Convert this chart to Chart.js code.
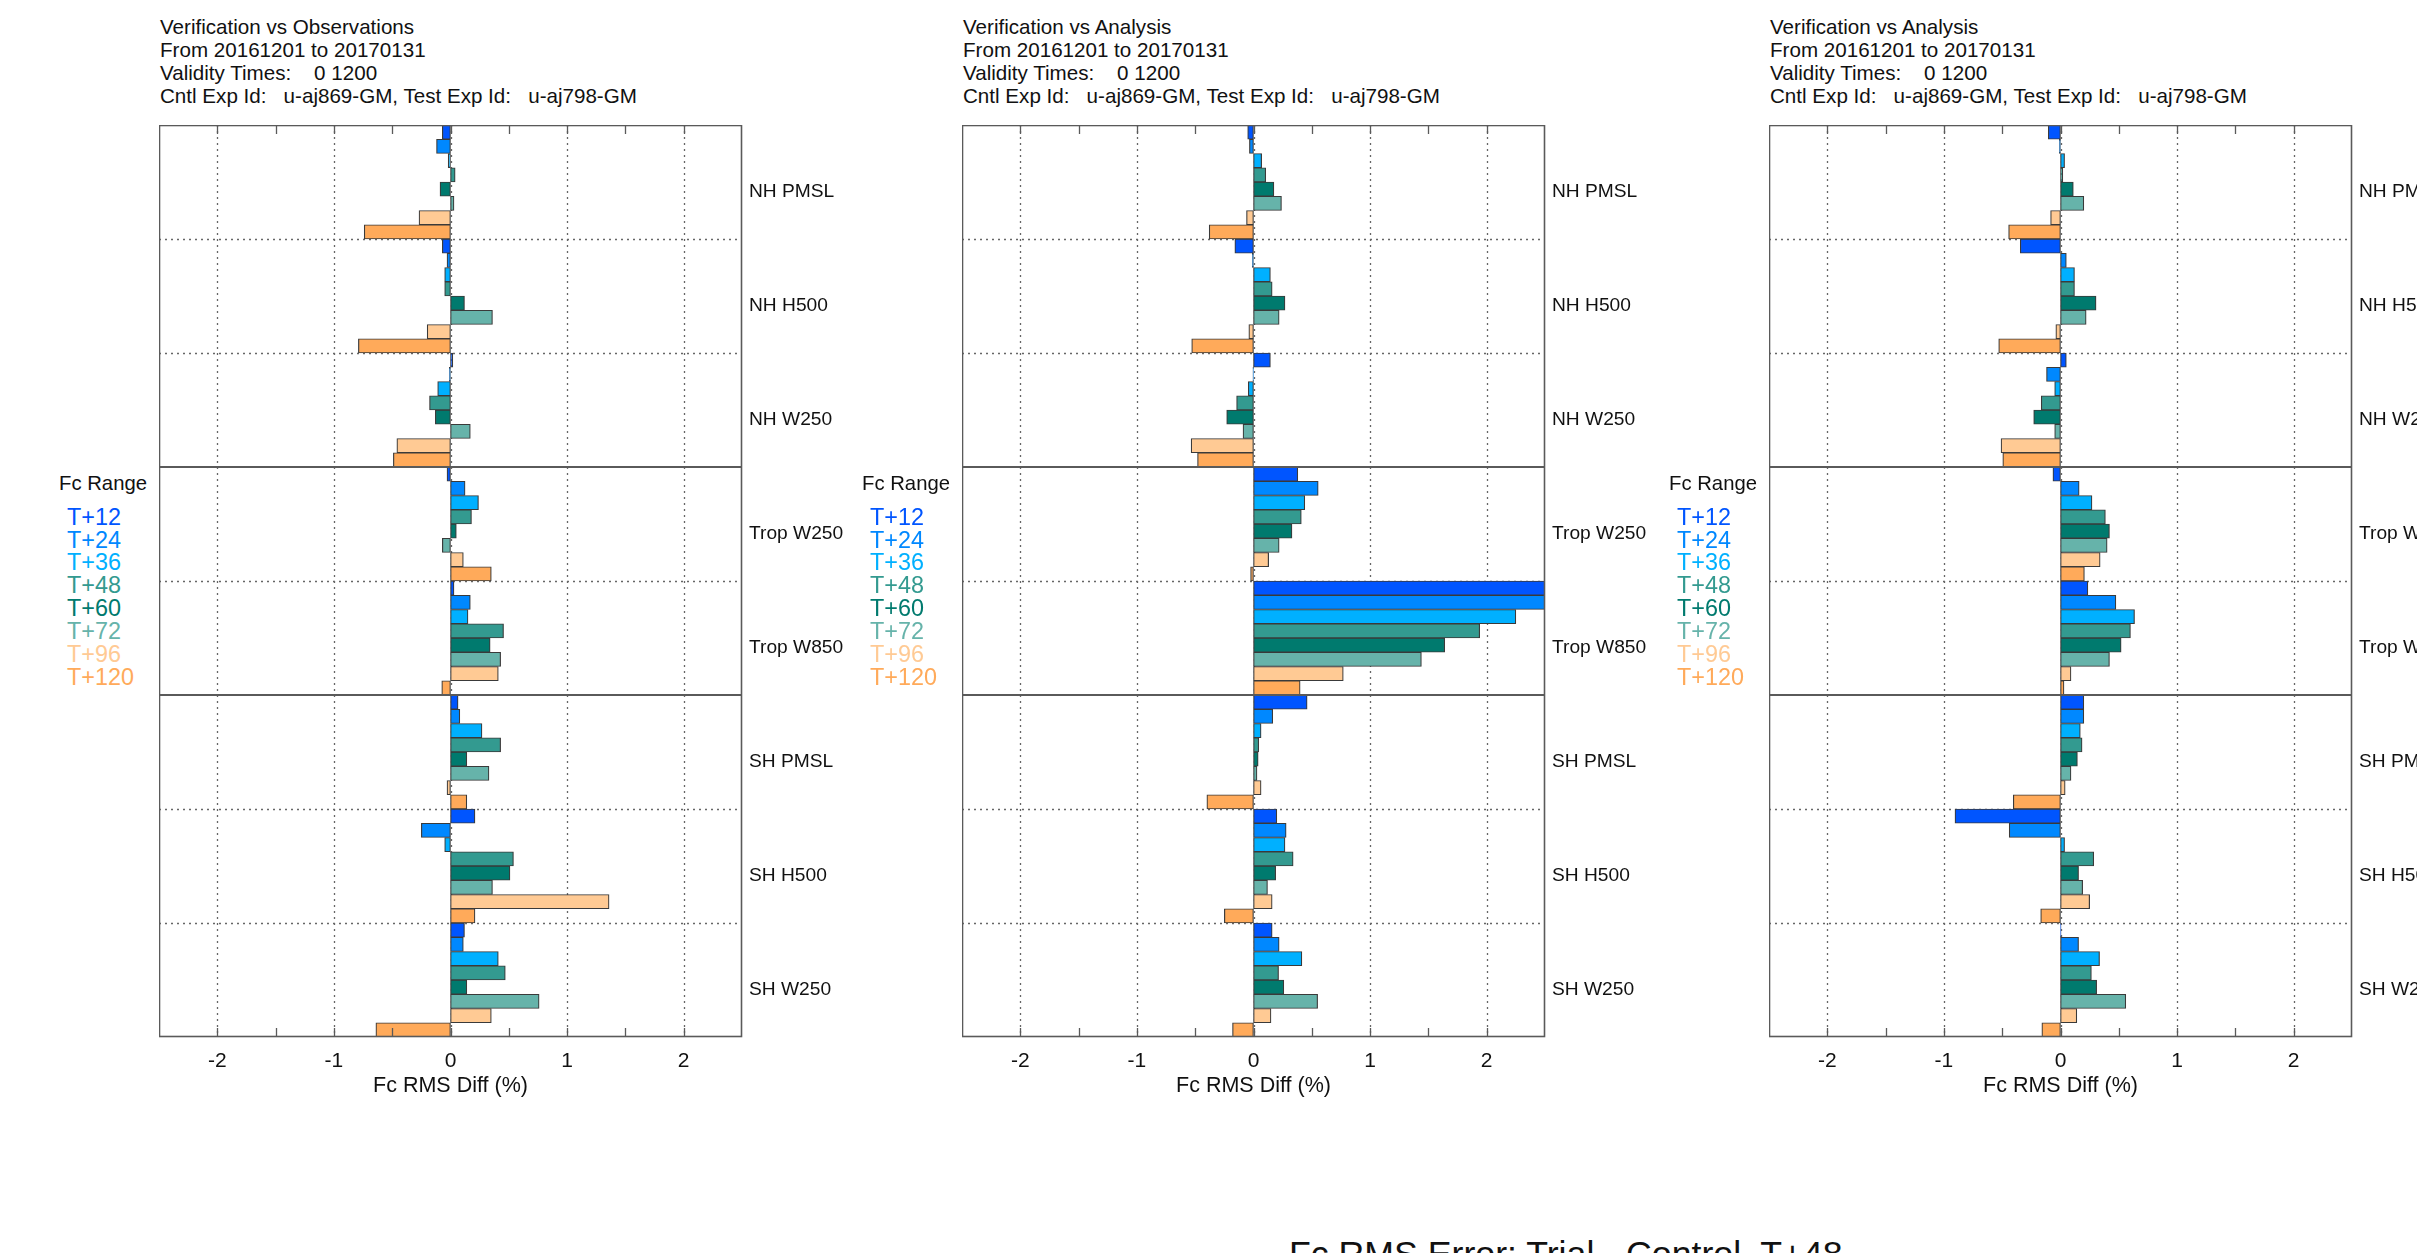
<!DOCTYPE html>
<html>
<head>
<meta charset="utf-8">
<script src="https://cdn.jsdelivr.net/npm/chart.js@4/dist/chart.umd.min.js"></script>
<style>
  html, body { margin: 0; padding: 0; width: 2417px; height: 1253px; overflow: hidden; background: #fff; }
  body { position: relative; font-family: "Liberation Sans", Arial, Helvetica, sans-serif; color: #111; }
  .t { position: absolute; white-space: pre; }
  canvas { position: absolute; }
</style>
</head>
<body>
<script>
// Verification regions (one bar group per region)
const categories = ['NH PMSL', 'NH H500', 'NH W250', 'Trop W250', 'Trop W850', 'SH PMSL', 'SH H500', 'SH W250'];
// Region index where a new hemisphere block starts (solid separator)
const groupBreaks = [3, 5];

// Forecast ranges and their colours
const seriesNames = ['T+12', 'T+24', 'T+36', 'T+48', 'T+60', 'T+72', 'T+96', 'T+120'];
const seriesColours = ['#0055ff', '#0088ff', '#00b0ff', '#339a90', '#007a6e', '#66b3aa', '#ffca94', '#ffaa5a'];

// Axis ticks
const xTicks = [-2, -1, 0, 1, 2];
const xMinorTicks = [-2, -1.5, -1, -0.5, 0, 0.5, 1, 1.5, 2];

// Fc RMS Diff (%) per forecast range (rows) and region (columns)
const obsValues = [
  [-0.07, -0.07,  0.02, -0.03,  0.03,  0.065, 0.21,  0.12],
  [-0.12, -0.03, -0.01,  0.125, 0.17,  0.08, -0.25,  0.11],
  [-0.02, -0.05, -0.11,  0.24,  0.15,  0.27, -0.05,  0.41],
  [ 0.04, -0.05, -0.18,  0.18,  0.455, 0.43,  0.54,  0.47],
  [-0.09,  0.12, -0.13,  0.05,  0.34,  0.14,  0.51,  0.14],
  [ 0.03,  0.36,  0.17, -0.07,  0.43,  0.33,  0.36,  0.76],
  [-0.27, -0.20, -0.46,  0.11,  0.41, -0.03,  1.36,  0.35],
  [-0.74, -0.79, -0.49,  0.35, -0.075, 0.14,  0.21, -0.64]
];
const anaValuesA = [
  [-0.05,  -0.16,  0.145,  0.38,  2.9,  0.46,  0.20,  0.16],
  [-0.035, -0.01, -0.005,  0.555, 2.7,  0.165, 0.28,  0.22],
  [ 0.07,   0.145, -0.045, 0.44,  2.25, 0.065, 0.27,  0.415],
  [ 0.105,  0.16, -0.145,  0.41,  1.94, 0.045, 0.34,  0.215],
  [ 0.175,  0.27, -0.23,   0.33,  1.64, 0.04,  0.19,  0.26],
  [ 0.24,   0.22, -0.09,   0.22,  1.44, 0.03,  0.12,  0.55],
  [-0.06,  -0.04, -0.535,  0.13,  0.77, 0.065, 0.16,  0.15],
  [-0.38,  -0.53, -0.48,  -0.025, 0.40, -0.40, -0.25, -0.18]
];
const anaValuesB = [
  [-0.105, -0.345,  0.05,  -0.065, 0.235, 0.20,  -0.905, 0.005],
  [-0.01,   0.05,  -0.12,   0.16,  0.475, 0.20,  -0.44,  0.155],
  [ 0.035,  0.12,  -0.05,   0.27,  0.635, 0.17,   0.035, 0.335],
  [ 0.02,   0.12,  -0.165,  0.385, 0.60,  0.185,  0.285, 0.265],
  [ 0.11,   0.305, -0.23,   0.42,  0.52,  0.145,  0.155, 0.31],
  [ 0.20,   0.22,  -0.05,   0.40,  0.42,  0.09,   0.19,  0.56],
  [-0.085, -0.04,  -0.51,   0.34,  0.09,  0.04,   0.25,  0.14],
  [-0.445, -0.53,  -0.495,  0.205, 0.03, -0.405, -0.17, -0.16]
];

const titleObs = ['Verification vs Observations', 'From 20161201 to 20170131', 'Validity Times:    0 1200', 'Cntl Exp Id:   u-aj869-GM, Test Exp Id:   u-aj798-GM'];
const titleAna = ['Verification vs Analysis', 'From 20161201 to 20170131', 'Validity Times:    0 1200', 'Cntl Exp Id:   u-aj869-GM, Test Exp Id:   u-aj798-GM'];
const footerText = 'Fc RMS Error: Trial - Control, T+48';

const FONT = '"Liberation Sans", Arial, Helvetica, sans-serif';
const PLOT_TOP = 125, PLOT_W = 583, PLOT_H = 912;
const Y_AXIS_W = 200, X_AXIS_H = 90;

const panels = [
  { left: 159,  title: titleObs, values: obsValues },
  { left: 962,  title: titleAna, values: anaValuesA },
  { left: 1769, title: titleAna, values: anaValuesB }
];

// Place a text line by its baseline
function put(text, x, baseline, size, color, align) {
  const d = document.createElement('div');
  d.className = 't';
  d.textContent = text;
  d.style.fontSize = size + 'px';
  d.style.lineHeight = size + 'px';
  d.style.color = color;
  d.style.left = x + 'px';
  d.style.top = (baseline - 0.8465 * size) + 'px';
  if (align === 'right') d.style.transform = 'translateX(-100%)';
  if (align === 'center') d.style.transform = 'translateX(-50%)';
  document.body.appendChild(d);
}

// Frame, grid lines, separators and minor ticks of each panel
const framePlugin = {
  id: 'frame',
  beforeDatasetsDraw(chart) {
    const { ctx, chartArea: a, scales: { x, y } } = chart;
    ctx.save();
    ctx.strokeStyle = '#666';
    ctx.lineWidth = 1.3;
    ctx.setLineDash([2, 4]);
    xTicks.forEach(v => {
      const px = Math.round(x.getPixelForValue(v)) + 0.5;
      ctx.beginPath(); ctx.moveTo(px, a.top); ctx.lineTo(px, a.bottom); ctx.stroke();
    });
    for (let i = 1; i < categories.length; i++) {
      if (groupBreaks.includes(i)) continue;
      const py = Math.round((y.getPixelForValue(i - 1) + y.getPixelForValue(i)) / 2) + 0.5;
      ctx.beginPath(); ctx.moveTo(a.left, py); ctx.lineTo(a.right, py); ctx.stroke();
    }
    ctx.restore();
  },
  afterDatasetsDraw(chart) {
    const { ctx, chartArea: a, scales: { x, y } } = chart;
    ctx.save();
    ctx.setLineDash([]);
    ctx.strokeStyle = '#5a5a5a';
    ctx.lineWidth = 2;
    groupBreaks.forEach(i => {
      const py = Math.round((y.getPixelForValue(i - 1) + y.getPixelForValue(i)) / 2);
      ctx.beginPath(); ctx.moveTo(a.left, py); ctx.lineTo(a.right, py); ctx.stroke();
    });
    ctx.lineWidth = 1.3;
    xMinorTicks.forEach(v => {
      const px = Math.round(x.getPixelForValue(v)) + 0.5;
      ctx.beginPath();
      ctx.moveTo(px, a.top); ctx.lineTo(px, a.top + 9);
      ctx.moveTo(px, a.bottom); ctx.lineTo(px, a.bottom - 9);
      ctx.stroke();
    });
    ctx.lineWidth = 1.6;
    ctx.strokeRect(a.left + 0.5, a.top + 0.5, a.right - a.left - 1, a.bottom - a.top - 1);
    ctx.restore();
  }
};

panels.forEach(p => {
  // Title block
  p.title.forEach((line, k) => put(line, p.left + 1, 34 + k * 23.3, 20.6, '#111', 'left'));

  // Forecast range key
  put('Fc Range', p.left - 12, 490.5, 20.3, '#111', 'right');
  seriesNames.forEach((n, k) => put(n, p.left - 92, 525.5 + k * 22.9, 23.4, seriesColours[k], 'left'));

  const canvas = document.createElement('canvas');
  canvas.width = PLOT_W + Y_AXIS_W;
  canvas.height = PLOT_H + X_AXIS_H;
  canvas.style.left = p.left + 'px';
  canvas.style.top = PLOT_TOP + 'px';
  document.body.appendChild(canvas);

  new Chart(canvas, {
    type: 'bar',
    data: {
      labels: categories,
      datasets: seriesNames.map((n, k) => ({
        label: n,
        data: p.values[k],
        backgroundColor: seriesColours[k],
        borderColor: '#3a3a3a',
        borderWidth: 1.2,
        borderSkipped: false,
        categoryPercentage: 1,
        barPercentage: 1
      }))
    },
    options: {
      indexAxis: 'y',
      responsive: false,
      animation: false,
      devicePixelRatio: 1,
      layout: { padding: 0 },
      plugins: { legend: { display: false }, tooltip: { enabled: false } },
      scales: {
        x: {
          type: 'linear',
          min: -2.5,
          max: 2.5,
          afterBuildTicks: s => { s.ticks = xTicks.map(v => ({ value: v })); },
          afterFit: s => { s.height = X_AXIS_H; s.paddingLeft = 0; s.paddingRight = 0; },
          grid: { display: false },
          border: { display: false },
          ticks: { padding: 4, color: '#111', font: { family: FONT, size: 21 }, callback: v => String(v) },
          title: { display: true, text: 'Fc RMS Diff (%)', color: '#111', font: { family: FONT, size: 21.5 }, padding: { top: 0, bottom: 28 } }
        },
        y: {
          type: 'category',
          position: 'right',
          offset: true,
          afterFit: s => { s.width = Y_AXIS_W; s.paddingTop = 0; s.paddingBottom = 0; },
          grid: { display: false },
          border: { display: false },
          ticks: { padding: -1, labelOffset: 10, autoSkip: false, color: '#111', font: { family: FONT, size: 19.2 } }
        }
      }
    },
    plugins: [framePlugin]
  });
});

put(footerText, 1289, 1267, 35.7, '#111', 'left');
</script>
</body>
</html>
